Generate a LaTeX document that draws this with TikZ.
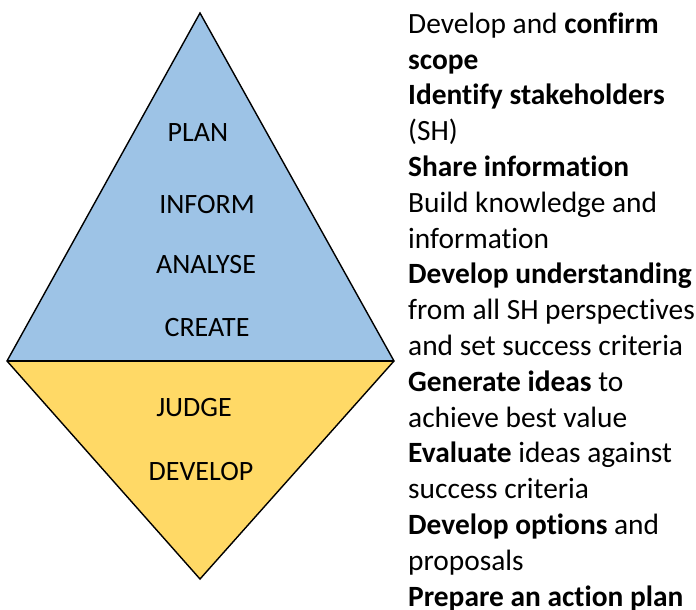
\documentclass[tikz,border=0pt]{standalone}
\usepackage{fontspec}
\setmainfont[Ligatures=NoCommon]{Carlito}
\usetikzlibrary{positioning}

\definecolor{planblue}{HTML}{9DC3E6}
\definecolor{judgeyellow}{HTML}{FFD966}

\begin{document}
\begin{tikzpicture}[
  x=1pt, y=-1pt,
  phase/.style={inner sep=0pt, font=\fontsize{28}{30}\selectfont},
  edge/.style={line width=1.4pt, line join=miter},
  steps/.style={inner sep=0pt, align=left, anchor=base west, font=\fontsize{29.4}{35.8}\selectfont}
]
\useasboundingbox (0,0) rectangle (696,610);

% corners of the diamond
\coordinate (top) at (200,13);
\coordinate (left) at (7,361);
\coordinate (right) at (394,361);
\coordinate (bottom) at (200,579);

\fill[planblue] (top) -- (right) -- (left) -- cycle;
\fill[judgeyellow] (left) -- (right) -- (bottom) -- cycle;
\draw[edge] (top) -- (right) -- (bottom) -- (left) -- cycle;
\draw[edge] (left) -- (right);

\node[phase] (plan) at (198,133) {PLAN};
\node[phase] (inform) at (207,205) {INFORM};
\node[phase] (analyse) at (206,265) {ANALYSE};
\node[phase] (create) at (207,328) {CREATE};
\node[phase] (judge) at (194,408) {JUDGE};
\node[phase] (develop) at (201,472) {DEVELOP};

% base of the block is its last line
\node[steps] (actions) at (408,606) {%
  Develop and \textbf{confirm}\\
  \textbf{scope}\\
  \textbf{Identify stakeholders}\\
  (SH)\\
  \textbf{Share information}\\
  Build knowledge and\\
  information\\
  \textbf{Develop understanding}\\
  from all SH perspectives\\
  and set success criteria\\
  \textbf{Generate ideas} to\\
  achieve best value\\
  \textbf{Evaluate} ideas against\\
  success criteria\\
  \textbf{Develop options} and\\
  proposals\\
  \textbf{Prepare an action plan}};
\end{tikzpicture}
\end{document}
